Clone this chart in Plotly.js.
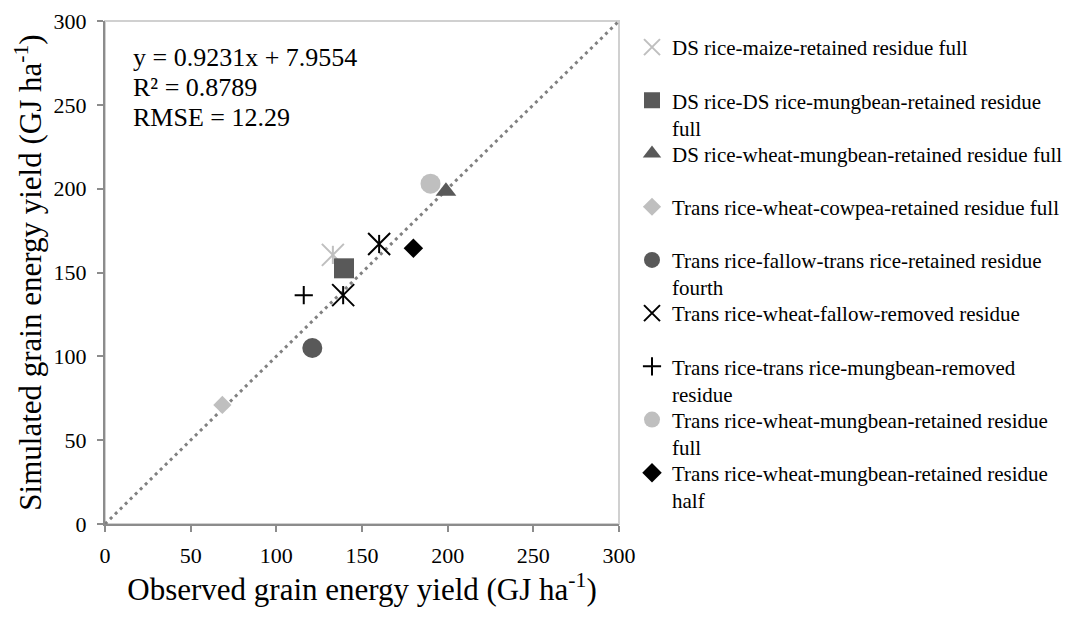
<!DOCTYPE html>
<html>
<head>
<meta charset="utf-8">
<script src="https://cdn.plot.ly/plotly-3.0.1.min.js"></script>
<style>html,body{margin:0;padding:0;background:#fff;}#chart{width:1075px;height:619px;}</style>
</head>
<body>
<div id="chart"></div>
<script>
// ---- data ----
const seriesNames = [
  "DS rice-maize-retained residue full",
  "DS rice-DS rice-mungbean-retained residue<br>full",
  "DS rice-wheat-mungbean-retained residue full",
  "Trans rice-wheat-cowpea-retained residue full",
  "Trans rice-fallow-trans rice-retained residue<br>fourth",
  "Trans rice-wheat-fallow-removed residue",
  "Trans rice-trans rice-mungbean-removed<br>residue",
  "Trans rice-wheat-mungbean-retained residue<br>full",
  "Trans rice-wheat-mungbean-retained residue<br>half"
];
const observed = [[133], [139.5], [199], [68.5], [121], [139, 160], [116], [190], [180]];
const simulated = [[160.5], [152.5], [198.5], [71], [105], [136.5, 167], [136.5], [203], [164.5]];
const oneToOneX = [0, 300];
const oneToOneY = [0, 300];
const tickValues = [0, 50, 100, 150, 200, 250, 300];
const equationText = ["y = 0.9231x + 7.9554", "R² = 0.8789", "RMSE = 12.29"];

// ---- styles ----
const LG = "#bfbfbf", DG = "#595959", BK = "#000000";
const styles = [
  {symbol: "x-thin-open", size: 22, color: LG, lw: 2},
  {symbol: "square", size: 20, color: DG},
  {symbol: "triangle-up", size: 18, color: DG},
  {symbol: "diamond", size: 14, color: LG},
  {symbol: "circle", size: 20, color: DG},
  {symbol: "x-thin-open", size: 22, color: BK, lw: 2},
  {symbol: "cross-thin-open", size: 13, color: BK, lw: 2},
  {symbol: "circle", size: 20, color: LG},
  {symbol: "diamond", size: 15, color: BK}
];

const FONT = "'Liberation Serif', 'Times New Roman', Times, serif";
const PLOT = {l: 105, t: 21, w: 514, h: 503};
const W = 1075, H = 619;
const pyToPaper = (py) => (PLOT.t + PLOT.h - py) / PLOT.h;
const pxToPaper = (px) => (px - PLOT.l) / PLOT.w;

const traces = [];
traces.push({
  x: oneToOneX, y: oneToOneY, mode: "lines", showlegend: false, hoverinfo: "skip",
  line: {color: "#808080", width: 3, dash: "3px,4px"}
});
const legendFirstRow = 48, legendStep = 53.2, legendFont = 21;
const layoutLegends = {};
seriesNames.forEach((name, i) => {
  const s = styles[i];
  const lgKey = i === 0 ? "legend" : "legend" + (i + 1);
  traces.push({
    x: observed[i], y: simulated[i], mode: "markers", type: "scatter",
    name: name, legend: lgKey,
    marker: {symbol: s.symbol, size: s.size, color: s.color,
             line: {color: s.color, width: s.lw || 0}}
  });
  if (s.symbol === "x-thin-open") {
    traces.push({
      x: observed[i], y: simulated[i], mode: "markers", type: "scatter",
      showlegend: false, hoverinfo: "skip",
      marker: {symbol: "line-ns-open", size: 13, color: s.color,
               line: {color: s.color, width: s.lw}}
    });
  }
  layoutLegends[lgKey] = {
    xref: "container", yref: "container",
    x: 632 / W, xanchor: "left",
    y: 1 - (legendFirstRow + legendStep * i - 21) / H, yanchor: "top",
    font: {family: FONT, size: legendFont, color: "#000"},
    valign: "top", bgcolor: "rgba(0,0,0,0)", itemwidth: 30
  };
});

const axisCommon = {
  range: [0, 300], tickvals: tickValues, ticktext: tickValues.map(String),
  showgrid: false, zeroline: false, showline: true, linecolor: "#8c8c8c", linewidth: 2,
  ticks: "outside", ticklen: 6, tickwidth: 2, tickcolor: "#8c8c8c",
  tickfont: {family: FONT, size: 22, color: "#000"}, fixedrange: true, automargin: false
};

const lineStep = 30, firstLineCenter = 57;
const annotations = equationText.map((t, k) => ({
  xref: "paper", yref: "paper", x: pxToPaper(131), y: pyToPaper(firstLineCenter + lineStep * k),
  xanchor: "left", yanchor: "middle", align: "left", showarrow: false, text: t,
  font: {family: FONT, size: 26, color: "#000"}
}));

const layout = Object.assign({
  width: W, height: H,
  margin: {l: PLOT.l, r: W - PLOT.l - PLOT.w, t: PLOT.t, b: H - PLOT.t - PLOT.h},
  paper_bgcolor: "#fff", plot_bgcolor: "#fff",
  font: {family: FONT, color: "#000"},
  xaxis: Object.assign({}, axisCommon, {
    ticklabelstandoff: 5,
    title: {text: "Observed grain energy yield (GJ ha<sup>-1</sup>)", font: {family: FONT, size: 31, color: "#000"}, standoff: 0}
  }),
  yaxis: Object.assign({}, axisCommon, {
    ticklabelstandoff: 6,
    title: {text: "Simulated grain energy yield (GJ ha<sup>-1</sup>)", font: {family: FONT, size: 31, color: "#000"}, standoff: 3}
  }),
  shapes: [{type: "rect", xref: "paper", yref: "paper", x0: 0, y0: 0, x1: 1, y1: 1,
            line: {color: "#d0d0d0", width: 2}, layer: "below"}],
  annotations: annotations,
  showlegend: true
}, layoutLegends);

Plotly.newPlot("chart", traces, layout, {staticPlot: true, displayModeBar: false});
</script>
</body>
</html>
